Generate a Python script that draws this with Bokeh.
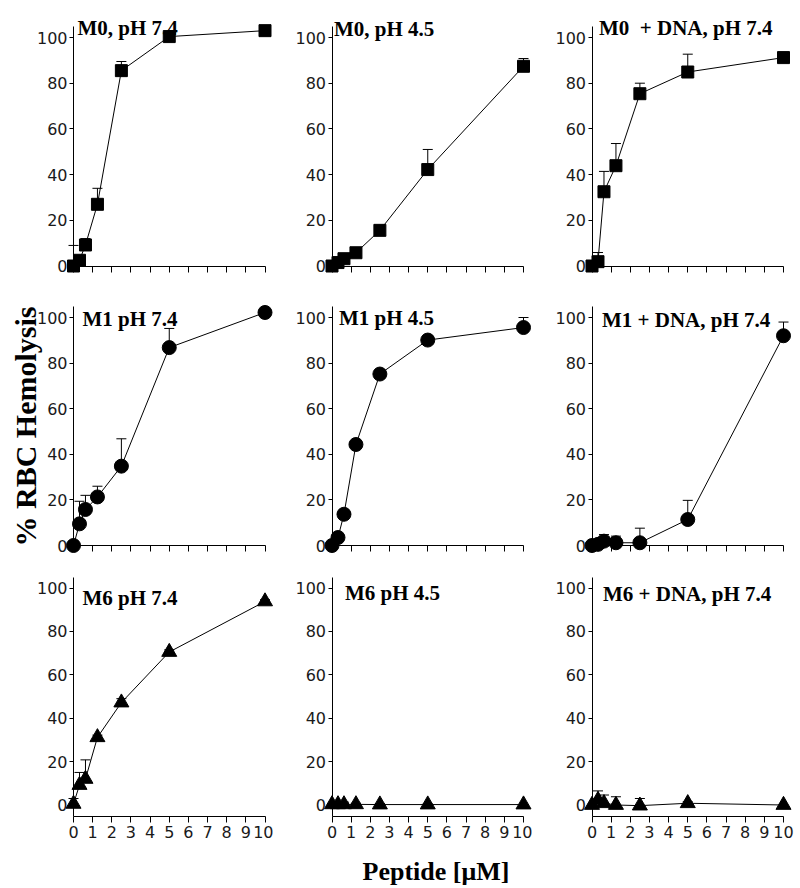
import math
from bokeh.plotting import figure
from bokeh.layouts import gridplot
from bokeh.models import (Range1d, LinearAxis, FixedTicker, Whisker, TeeHead,
                          ColumnDataSource, Label, CustomJSTickFormatter)
from bokeh.embed import file_html
from bokeh.resources import INLINE

# ---------------- data ----------------
conc = [0, 0.3125, 0.625, 1.25, 2.5, 5, 10]
x_ticks = [0, 1, 2, 3, 4, 5, 6, 7, 8, 9, 10]
y_ticks = [0, 20, 40, 60, 80, 100]

titles = [
    ["M0, pH 7.4", "M0, pH 4.5", "M0\u00a0 + DNA, pH 7.4"],
    ["M1 pH 7.4", "M1 pH 4.5", "M1 + DNA, pH 7.4"],
    ["M6 pH 7.4", "M6 pH 4.5", "M6 + DNA, pH 7.4"],
]

m0_ph74 = [0, 2.5, 9.2, 27, 85.5, 100.4, 103]
m0_ph74_err = [9, 0, 2.8, 7, 4, 0, 0]
m0_ph45 = [0, 1.5, 3.2, 5.8, 15.6, 42.2, 87.4]
m0_ph45_err = [0, 0, 0, 0, 0, 8.8, 3.4]
m0_dna = [0, 1.9, 32.5, 43.9, 75.4, 84.9, 91.2]
m0_dna_err = [0, 4.0, 8.9, 9.7, 4.6, 7.8, 0]

m1_ph74 = [0, 9.5, 15.8, 21.3, 34.8, 86.8, 102.2]
m1_ph74_err = [0, 9.9, 6.2, 4.7, 12, 8.4, 0]
m1_ph45 = [0, 3.5, 13.7, 44.3, 75.2, 90.1, 95.6]
m1_ph45_err = [0, 0, 0, 0, 0, 0, 4.4]
m1_dna = [0, 0.5, 1.9, 1.2, 1.2, 11.4, 92]
m1_dna_err = [0, 0, 2.9, 2.9, 6.4, 8.4, 6]

m6_ph74 = [0.5, 9.2, 12, 31.2, 47.2, 70.5, 93.8]
m6_ph74_err = [2.5, 5.8, 8.8, 1, 1.8, 1, 0.8]
m6_ph45 = [0.3, 0.3, 0.3, 0.3, 0.2, 0.2, 0.2]
m6_ph45_err = [0, 0.5, 1.0, 0.5, 0.5, 0.3, 0]
m6_dna = [0, 2.3, 0.8, 0, -0.3, 0.8, 0]
m6_dna_err = [0, 4.2, 3.8, 3.8, 3.3, 0.7, 0]

series = [
    [(m0_ph74, m0_ph74_err), (m0_ph45, m0_ph45_err), (m0_dna, m0_dna_err)],
    [(m1_ph74, m1_ph74_err), (m1_ph45, m1_ph45_err), (m1_dna, m1_dna_err)],
    [(m6_ph74, m6_ph74_err), (m6_ph45, m6_ph45_err), (m6_dna, m6_dna_err)],
]
y_label = "% RBC Hemolysis"
x_label = "Peptide [\u03bcM]"

# ---------------- styling / layout (pixel geometry) ----------------
row_markers = ["square", "circle", "triangle"]
row_marker_sizes = [12, 14, 15]

SX = 19.15                      # px per x unit
col_edges = [0, 273, 532, 798]  # figure cell edges (px)
col_axis = [73, 331.5, 591.5]   # where x = 0 sits
row_edges = [0, 280, 560, 888]
row_zero = [265.5, 545, 804.5]  # where y = 0 sits
row_hundred = [37, 317, 587.5]  # where y = 100 sits
row_xaxis_loc = [0, 0, -5.3]

title_off = [
    [(4, 10), (2, 9), (7, 10)],
    [(9, -1), (7, 0), (10, -2)],
    [(9, -10), (13, -5), (11, -6)],
]

SERIF = "Liberation Serif"
SANS = "DejaVu Sans"

grid = []
for r in range(3):
    row_figs = []
    top, bottom = row_edges[r], row_edges[r + 1]
    sy = (row_zero[r] - row_hundred[r]) / 100.0
    ys = -(bottom - row_zero[r]) / sy
    ye = (row_zero[r] - top) / sy
    for c in range(3):
        left, right = col_edges[c], col_edges[c + 1]
        xs = (left - col_axis[c]) / SX
        xe = (right - col_axis[c]) / SX
        yv, ev = series[r][c]
        p = figure(frame_width=right - left, frame_height=bottom - top,
                   min_border=0, min_border_left=0, min_border_right=0,
                   min_border_top=0, min_border_bottom=0,
                   x_range=Range1d(xs, xe), y_range=Range1d(ys, ye),
                   x_axis_type=None, y_axis_type=None, title=None,
                   output_backend="svg", toolbar_location=None)
        p.outline_line_color = None
        p.background_fill_color = "white"
        p.border_fill_color = "white"

        xa = LinearAxis(fixed_location=row_xaxis_loc[r], bounds=(0, 10),
                        ticker=FixedTicker(ticks=x_ticks))
        xa.axis_line_color = "black"
        xa.major_tick_line_color = "black"
        xa.major_tick_in = 0
        xa.major_tick_out = 6
        xa.minor_tick_line_color = None
        xa.major_label_standoff = 3
        xa.major_label_text_font = SANS
        xa.major_label_text_font_size = "16px"
        xa.major_label_text_color = "#1a1a1a"
        if r < 2:
            xa.formatter = CustomJSTickFormatter(code="return ''")
        p.add_layout(xa, "below")

        ya = LinearAxis(fixed_location=0, bounds=(row_xaxis_loc[r], 105),
                        ticker=FixedTicker(ticks=y_ticks))
        ya.axis_line_color = "black"
        ya.major_tick_line_color = "black"
        ya.major_tick_in = 0
        ya.major_tick_out = 4
        ya.minor_tick_line_color = None
        ya.major_label_standoff = 2
        ya.major_label_text_font = SANS
        ya.major_label_text_font_size = "16px"
        ya.major_label_text_color = "#1a1a1a"
        p.add_layout(ya, "left")

        # error bars (upper only)
        ex = [x for x, e in zip(conc, ev) if e > 0]
        ey = [y for y, e in zip(yv, ev) if e > 0]
        eu = [y + e for y, e in zip(yv, ev) if e > 0]
        if ex:
            esrc = ColumnDataSource(dict(x=ex, lower=ey, upper=eu))
            w = Whisker(base="x", lower="lower", upper="upper", source=esrc,
                        dimension="height", line_color="black", line_width=1,
                        lower_head=None,
                        upper_head=TeeHead(size=10, line_color="black", line_width=1))
            p.add_layout(w)

        p.line(conc, yv, line_color="black", line_width=1)
        p.scatter(conc, yv, marker=row_markers[r], size=row_marker_sizes[r],
                  fill_color="black", line_color="black")

        dx, dy = title_off[r][c]
        p.add_layout(Label(x=0, y=100, x_offset=dx, y_offset=dy, text=titles[r][c],
                           text_font=SERIF, text_font_style="bold",
                           text_font_size="21px", text_color="black",
                           text_align="left", text_baseline="alphabetic"))

        if r == 1 and c == 0:
            p.add_layout(Label(x=-2.5, y=52.2, text=y_label, angle=math.pi / 2,
                               text_font=SERIF, text_font_style="bold",
                               text_font_size="30px", text_color="black",
                               text_align="center", text_baseline="middle"))
        if r == 2 and c == 1:
            p.add_layout(Label(x=5.43, y=-30.6, text=x_label,
                               text_font=SERIF, text_font_style="bold",
                               text_font_size="26px", text_color="black",
                               text_align="center", text_baseline="alphabetic"))
        row_figs.append(p)
    grid.append(row_figs)

layout = gridplot(grid, toolbar_location=None)
open("out.html", "w").write(file_html(layout, INLINE))
